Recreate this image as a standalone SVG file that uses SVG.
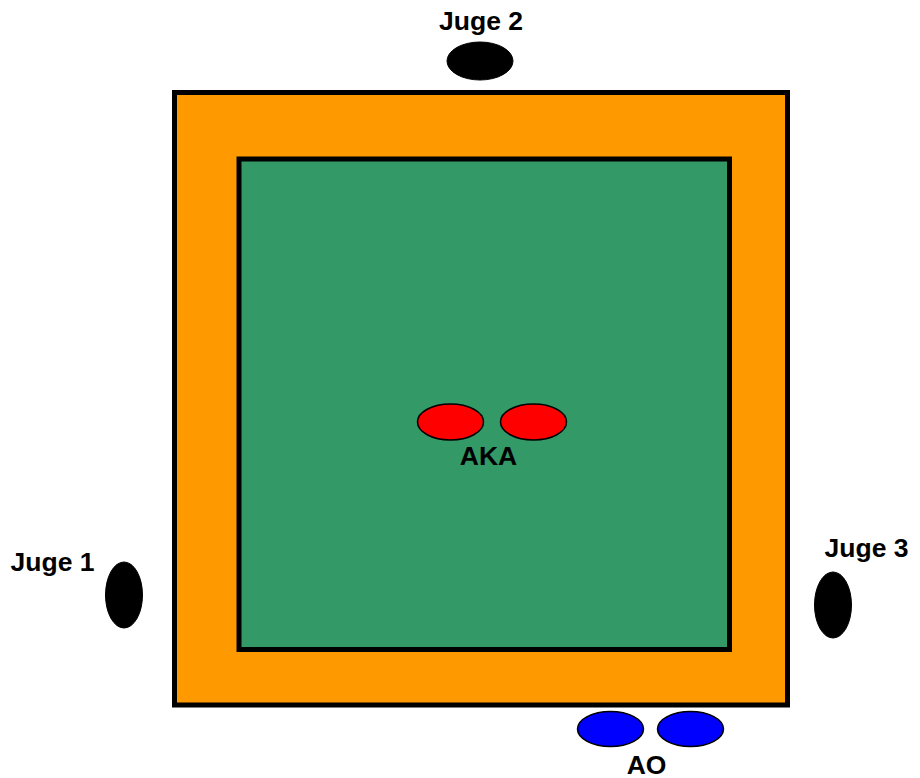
<svg xmlns="http://www.w3.org/2000/svg" width="920" height="778" viewBox="0 0 920 778">
<style>
.lbl{font-family:"Liberation Sans",Arial,sans-serif;font-weight:bold;font-size:26.5px;fill:#000;text-anchor:middle}
.judge{fill:#000;stroke:#000;stroke-width:1}
.aka{fill:#FF0000;stroke:#000;stroke-width:1.5}
.ao{fill:#0000FF;stroke:#000;stroke-width:1.5}
</style>
<rect width="920" height="778" fill="#fff"/>
<g id="tatami">
<rect x="174.5" y="92.5" width="613" height="612.5" fill="#FF9900" stroke="#000" stroke-width="5"/>
<rect x="239" y="159" width="490.5" height="490.5" fill="#339966" stroke="#000" stroke-width="5"/>
</g>
<g id="juge2">
<ellipse class="judge" cx="480" cy="61" rx="33" ry="19"/>
<text class="lbl" x="481" y="29.5">Juge 2</text>
</g>
<g id="juge1">
<ellipse class="judge" cx="124" cy="595" rx="18.5" ry="33"/>
<text class="lbl" x="52.5" y="571">Juge 1</text>
</g>
<g id="juge3">
<ellipse class="judge" cx="833" cy="605" rx="18.5" ry="33"/>
<text class="lbl" x="866.5" y="557">Juge 3</text>
</g>
<g id="aka">
<ellipse class="aka" cx="450.5" cy="422" rx="33" ry="18"/>
<ellipse class="aka" cx="533.5" cy="422" rx="33" ry="18"/>
<text class="lbl" x="488.5" y="464.5">AKA</text>
</g>
<g id="ao">
<ellipse class="ao" cx="610.5" cy="729" rx="33" ry="17.5"/>
<ellipse class="ao" cx="690.5" cy="729" rx="33" ry="17.5"/>
<text class="lbl" x="646.5" y="773.5">AO</text>
</g>
<g id="connectors"></g>
</svg>
